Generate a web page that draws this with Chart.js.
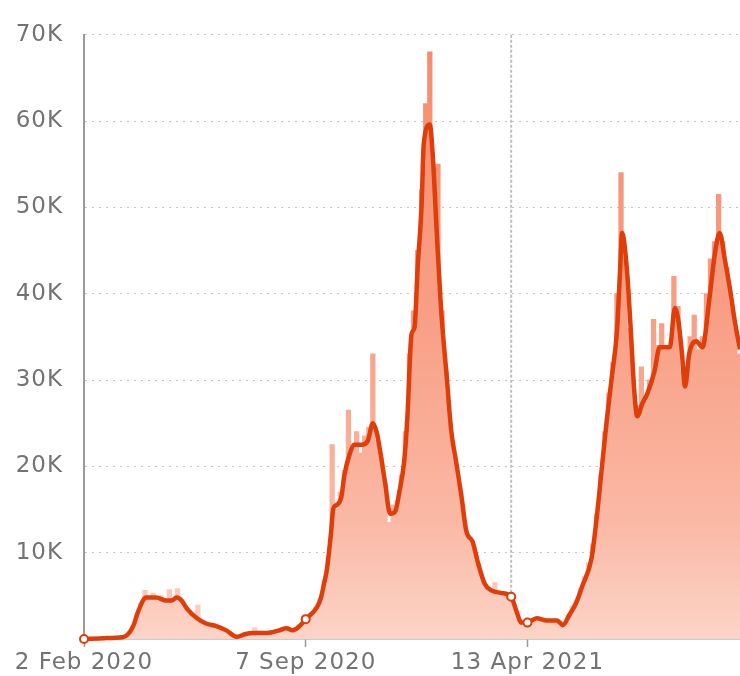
<!DOCTYPE html>
<html>
<head>
<meta charset="utf-8">
<script src="https://cdn.jsdelivr.net/npm/chart.js@4.4.1/dist/chart.umd.min.js"></script>
<style>
  html, body { margin: 0; padding: 0; background: #fff; }
  #wrap { width: 740px; height: 676px; }
</style>
</head>
<body>
<div id="wrap"><canvas id="chart"></canvas></div>
<script>
// x values are days since 2 Feb 2020
const tickDays = [0, 218, 436];
const tickLabels = ['2 Feb 2020', '7 Sep 2020', '13 Apr 2021'];
const markerDays = [0, 218, 420, 436];
const hoverDay = 420;

// daily cases, one bar every 4 days
const barStep = 4;
const dailyCases = [
    0, 0, 0, 50, 80, 100, 120, 150, 180, 200,
    300, 700, 1500, 2900, 4100, 5600, 4900, 5300, 4600, 5000,
    4300, 5700, 4400, 5800, 4300, 3700, 3300, 2800, 3900, 2000,
    1800, 1700, 1500, 1400, 1200, 1000, 700, 300, 400, 500,
    600, 800, 1300, 700, 750, 800, 850, 900, 1100, 1300,
    1200, 1100, 1300, 1600, 2100, 2500, 3000, 3700, 4600, 6800,
    9500, 22500, 15000, 17000, 19500, 26500, 22000, 24000, 21500, 23500,
    24500, 33000, 23000, 21000, 18000, 13500, 15500, 16000, 19000, 24000,
    33000, 38000, 45000, 52000, 62000, 68000, 53000, 55000, 38000, 31000,
    25000, 21000, 18000, 15500, 12500, 11500, 10500, 8800, 6800, 6000,
    5600, 6500, 5300, 5200, 5000, 4800, 3500, 2000, 1500, 1800,
    2300, 2400, 2200, 2300, 2100, 2200, 2100, 1900, 2000, 2700,
    3800, 4500, 5800, 7200, 8800, 11000, 14500, 19000, 24000, 28500,
    32000, 40000, 54000, 44000, 36000, 30000, 27000, 31500, 27500, 30000,
    37000, 34000, 36500, 33500, 34000, 42000, 38500, 31000, 30000, 35000,
    37500, 33500, 35000, 40000, 44000, 46000, 51500, 46000, 43000, 39000,
    36000, 33000
];

// 7-day average
const avgDays = [
    0, 20, 38, 48, 53, 58, 61, 71, 81, 86, 91, 96, 101, 111, 120, 130, 140, 150, 158, 166,
    180, 192, 199, 205, 212, 218, 229, 233, 236, 239, 243, 245, 248, 253, 256, 261, 266, 273, 279, 284,
    288, 291, 296, 301, 306, 310, 315, 318, 322, 325, 328, 332, 334, 340, 343, 347, 351, 357, 361, 366,
    371, 376, 382, 387, 394, 401, 410, 420, 425, 430, 436, 445, 455, 465, 471, 477, 484, 490, 499, 504,
    509, 514, 519, 524, 527, 529, 534, 538, 541, 544, 549, 554, 561, 566, 576, 581, 584, 588, 591, 595,
    602, 608, 615, 620, 625, 630, 635, 640, 645
];
const avgCases = [
    0, 100, 200, 1400, 3100, 4450, 4800, 4800, 4450, 4450, 4800, 4450, 3550, 2400, 1800, 1500, 1000, 250, 550, 700,
    700, 1000, 1250, 1000, 1500, 2300, 3650, 4800, 6400, 8200, 12450, 15050, 15500, 16450, 18950, 21350, 22500, 22500, 22950, 25000,
    23850, 21900, 18150, 14500, 14750, 17000, 20800, 25800, 35300, 36100, 42900, 50450, 57300, 59600, 55850, 46700, 38350, 29900, 24200, 20450,
    16650, 12450, 11300, 9000, 6400, 5600, 5350, 4900, 3300, 1900, 1900, 2400, 2150, 2150, 1600, 2750, 4200, 6150, 9350, 13950,
    19650, 25350, 30400, 35650, 42500, 47050, 42500, 34950, 28800, 25800, 27300, 28450, 31050, 33800, 33800, 38350, 37200, 33000, 29250, 33000,
    34500, 33800, 39500, 44400, 47050, 44050, 40650, 36750, 33550
];

const lineColor = '#df3d0a';
const axisColor = '#9a9a9a';
const textColor = '#737373';

function barGradient(context) {
    const chart = context.chart;
    const area = chart.chartArea;
    if (!area) {
        return 'rgb(248, 160, 135)';
    }
    const g = chart.ctx.createLinearGradient(0, area.top, 0, area.bottom);
    g.addColorStop(0, 'rgb(247, 140, 110)');
    g.addColorStop(0.45, 'rgb(248, 158, 132)');
    g.addColorStop(0.8, 'rgb(250, 184, 164)');
    g.addColorStop(1, 'rgb(252, 212, 200)');
    return g;
}

// wider text, closer to the source rendering
const textSpacing = {
    id: 'textSpacing',
    beforeDraw(chart) {
        chart.ctx.letterSpacing = '1px';
    }
};

// hovered day guide line
const hoverLine = {
    id: 'hoverLine',
    beforeDatasetsDraw(chart) {
        const x = chart.scales.x.getPixelForValue(hoverDay);
        const ctx = chart.ctx;
        ctx.save();
        ctx.strokeStyle = 'rgba(185, 185, 185, 0.9)';
        ctx.lineWidth = 2;
        ctx.setLineDash([3, 2]);
        ctx.beginPath();
        ctx.moveTo(x, chart.chartArea.top);
        ctx.lineTo(x, chart.chartArea.bottom);
        ctx.stroke();
        ctx.restore();
    }
};

const ctx = document.querySelector('#chart').getContext('2d');
new Chart(ctx, {
    type: 'bar',
    data: {
        datasets: [
            {
                type: 'line',
                label: '7-day average',
                data: avgDays.map((d, i) => ({ x: d, y: avgCases[i] })),
                borderColor: lineColor,
                borderWidth: 4.5,
                cubicInterpolationMode: 'monotone',
                pointRadius: c => (c.raw && markerDays.includes(c.raw.x) ? 4 : 0),
                pointHoverRadius: 0,
                pointBackgroundColor: '#ffffff',
                pointBorderColor: lineColor,
                pointBorderWidth: 2,
                clip: false,
                order: 0,
            },
            {
                label: 'Daily cases',
                data: dailyCases.map((v, i) => ({ x: i * barStep, y: v })),
                backgroundColor: barGradient,
                borderWidth: 0,
                barPercentage: 1,
                categoryPercentage: 1,
                inflateAmount: 0.6,
                order: 1,
            },
        ],
    },
    plugins: [textSpacing, hoverLine],
    options: {
        responsive: true,
        maintainAspectRatio: false,
        animation: false,
        layout: {
            autoPadding: false,
            padding: { top: 25, right: 0, bottom: 0, left: 0 },
        },
        plugins: {
            legend: { display: false },
            tooltip: { enabled: false },
        },
        scales: {
            x: {
                type: 'linear',
                min: 0,
                max: 645,
                offset: false,
                afterBuildTicks: scale => {
                    scale.ticks = tickDays.map(v => ({ value: v }));
                },
                afterFit: scale => {
                    scale.height = 37;
                },
                grid: {
                    offset: false,
                    drawOnChartArea: false,
                    drawTicks: true,
                    tickLength: 8,
                    tickColor: axisColor,
                    tickWidth: 1.5,
                },
                border: { display: true, color: axisColor, width: 1.5 },
                ticks: {
                    autoSkip: false,
                    maxRotation: 0,
                    padding: 2,
                    color: textColor,
                    font: { family: 'DejaVu Sans', size: 23 },
                    callback: value => tickLabels[tickDays.indexOf(value)],
                },
            },
            y: {
                min: 0,
                max: 70000,
                afterFit: scale => {
                    scale.width = 84;
                },
                grid: {
                    drawTicks: false,
                    color: c => (c.tick.value === 0 ? 'rgba(0,0,0,0)' : '#c4c4c4'),
                    lineWidth: 1,
                },
                border: { display: true, color: axisColor, width: 2, dash: [2, 5] },
                ticks: {
                    stepSize: 10000,
                    padding: 21,
                    color: textColor,
                    font: { family: 'DejaVu Sans', size: 23 },
                    callback: value => (value === 0 ? '' : value / 1000 + 'K'),
                },
            },
        },
    },
});
</script>
</body>
</html>
